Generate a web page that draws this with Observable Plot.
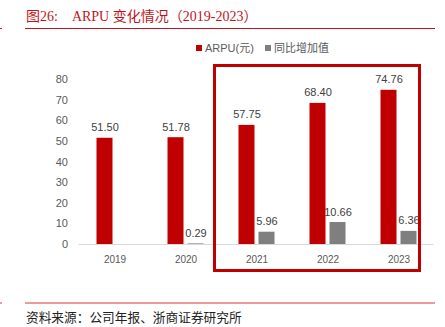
<!DOCTYPE html>
<html><head><meta charset="utf-8">
<script src="https://cdn.jsdelivr.net/npm/d3@7"></script>
<script src="https://cdn.jsdelivr.net/npm/@observablehq/plot@0.6"></script>
<style>
body{margin:0;background:#fff;}
#wrap{position:relative;width:445px;height:327px;overflow:hidden;font-family:"Liberation Sans",Arial,"Noto Sans CJK SC",sans-serif;background:#fff;}
#chart{position:absolute;left:0;top:0;}
.abs{position:absolute;white-space:nowrap;}
#title{left:26px;top:8px;font-family:"Liberation Serif","Noto Sans CJK SC",serif;font-size:14px;color:#c0141c;line-height:18px;}
#tline{left:25px;top:28px;width:410px;height:0;border-top:1.5px solid #c0141c;}
#tdash{left:0;top:28px;width:2px;height:0;border-top:1.5px solid #c0141c;}
#fline{left:25px;top:302px;width:410px;height:0;border-top:2px solid #eb9b9b;}
#fdash{left:0;top:302px;width:2px;height:0;border-top:2px solid #eb9b9b;}
#source{left:26px;top:309px;font-family:"Noto Sans CJK SC",serif;font-size:12.7px;color:#222;line-height:16px;}
#legend{left:196px;top:40px;font-size:11px;color:#595959;line-height:16px;}
#legend span.sw{display:inline-block;width:6px;height:6px;margin-right:3px;vertical-align:1px;}
#box{border:3px solid #c00000;box-sizing:border-box;}
</style></head><body>
<div id="wrap">
  <div id="chart"></div>
  <div class="abs" id="title">图26:　ARPU 变化情况（2019-2023）</div>
  <div class="abs" id="tline"></div><div class="abs" id="tdash"></div>
  <div class="abs" id="legend"></div>
  <div class="abs" id="box"></div>
  <div class="abs" id="fline"></div><div class="abs" id="fdash"></div>
  <div class="abs" id="source">资料来源：公司年报、浙商证券研究所</div>
</div>
<script>
const years = ["2019", "2020", "2021", "2022", "2023"];
const arpu = [51.50, 51.78, 57.75, 68.40, 74.76];
const yoy = [null, 0.29, 5.96, 10.66, 6.36];
const yTicks = [0, 10, 20, 30, 40, 50, 60, 70, 80];
const seriesNames = ["ARPU(元)", "同比增加值"];
const colors = ["#c00000", "#7f7f7f"];

const redData = years.map((y, i) => ({year: y, value: arpu[i]}));
const grayData = years.map((y, i) => ({year: y, value: yoy[i]})).filter(d => d.value != null);

const W = 445, H = 327;
const plot = Plot.plot({
  width: W, height: H,
  marginTop: 79, marginBottom: 83, marginLeft: 78.5, marginRight: 11.5,
  style: {background: "transparent", fontFamily: "'Liberation Sans', Arial, sans-serif", color: "#595959"},
  x: {domain: years, padding: 0, axis: null},
  y: {domain: [0, 80], axis: null},
  marks: [
    Plot.axisY({ticks: yTicks, tickSize: 0, tickPadding: 11, fontSize: 11, fill: "#595959", tickFormat: d => d, label: null}),
    Plot.axisX({tickSize: 0, tickPadding: 11, fontSize: 10, fill: "#595959", label: null}),
    Plot.barY(redData, {x: "year", y: "value", fill: colors[0], insetLeft: 17.5, insetRight: 37.5}),
    Plot.barY(grayData, {x: "year", y: "value", fill: colors[1], insetLeft: 37.5, insetRight: 17.5}),
    Plot.ruleY([0], {stroke: "#d9d9d9", strokeWidth: 1}),
    Plot.text(redData, {x: "year", y: "value", text: d => d.value.toFixed(2), dx: -10, dy: -7, lineAnchor: "bottom", fontSize: 11, fill: "#404040"}),
    Plot.text(grayData, {x: "year", y: "value", text: d => d.value.toFixed(2), dx: 10, dy: -7, lineAnchor: "bottom", fontSize: 11, fill: "#404040"})
  ]
});
document.getElementById("chart").appendChild(plot);

// legend
const lg = document.getElementById("legend");
lg.innerHTML = seriesNames.map((n, i) =>
  `<span class="sw" style="background:${colors[i]}"></span><span style="margin-right:${i === 0 ? 11 : 0}px">${n}</span>`).join("");

// highlight box around 2021-2023, derived from scales
const xs = plot.scale("x"), ys = plot.scale("y");
const boxEl = document.getElementById("box");
const bLeft = xs.apply("2021") - 8.5;
const bRight = xs.apply("2023") + xs.bandwidth - 13;
const bTop = ys.apply(80) - 15;
const bBottom = ys.apply(0) + 28;
Object.assign(boxEl.style, {left: bLeft + "px", top: bTop + "px", width: (bRight - bLeft) + "px", height: (bBottom - bTop) + "px"});
</script>
</body></html>
